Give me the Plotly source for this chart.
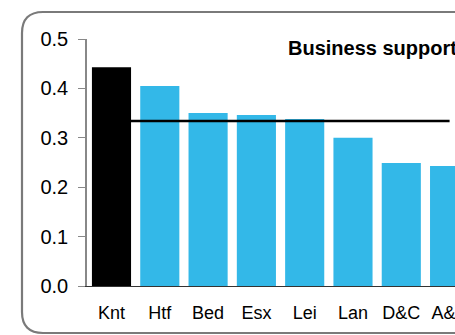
import plotly.graph_objects as go

categories = ["Knt", "Htf", "Bed", "Esx", "Lei", "Lan", "D&C", "A&S"]
values = [0.443, 0.405, 0.350, 0.346, 0.338, 0.300, 0.249, 0.243]
bar_colors = ["#000000"] + ["#33b8e8"] * 7
average = 0.334
y_ticks = [0.0, 0.1, 0.2, 0.3, 0.4, 0.5]
y_tick_labels = ["0.0", "0.1", "0.2", "0.3", "0.4", "0.5"]
title_text = "Business support"

W, H = 455, 335
ML, MT, MB, MR = 87, 39, 49, 0
PW, PH = W - ML - MR, H - MT - MB


def px(x):
    return (x - ML) / PW


def py(y):
    return (H - MB - y) / PH


fig = go.Figure()
fig.add_trace(go.Bar(x=categories, y=values, marker=dict(color=bar_colors, line=dict(width=0)),
                     showlegend=False))
fig.add_trace(go.Scatter(x=[categories[0], categories[-1]], y=[average, average], mode="lines",
                         line=dict(color="black", width=2.4), showlegend=False, hoverinfo="skip"))

# rounded border (extends beyond the right and bottom edges)
L, T, B, R, r = 22, 12, 333, 600, 21
path = (f"M {px(L)},{py(B - r)} L {px(L)},{py(T + r)} Q {px(L)},{py(T)} {px(L + r)},{py(T)} "
        f"L {px(R)},{py(T)} L {px(R)},{py(B)} L {px(L + r)},{py(B)} Q {px(L)},{py(B)} {px(L)},{py(B - r)} Z")
fig.add_shape(type="path", xref="paper", yref="paper", path=path,
              line=dict(color="#7a7a7a", width=2.2), fillcolor="rgba(0,0,0,0)", layer="below")

fig.add_annotation(text="<b>" + title_text + "</b>", xref="paper", yref="paper",
                   x=px(286), y=py(48), xanchor="left", yanchor="middle",
                   showarrow=False, font=dict(size=20, color="black"))

fig.update_layout(
    width=W, height=H, autosize=False,
    margin=dict(l=ML, r=MR, t=MT, b=MB, autoexpand=False),
    paper_bgcolor="white", plot_bgcolor="white",
    bargap=0.19,
    font=dict(family="Liberation Sans, Arial, sans-serif", color="black"),
    xaxis=dict(range=[-0.507, 7.112], showgrid=False, showline=True, linecolor="#333333",
               linewidth=1.2, ticks="", tickfont=dict(size=18), ticklabelstandoff=10,
               automargin=False),
    yaxis=dict(range=[0, 0.5], tickvals=y_ticks, ticktext=y_tick_labels, showgrid=False,
               zeroline=False, showline=True, linecolor="#888888", linewidth=1.5,
               ticks="outside", ticklen=7, tickcolor="#888888", tickfont=dict(size=20),
               ticklabelstandoff=6, automargin=False),
)

post = ("document.documentElement.style.overflow='hidden';"
        "document.body.style.overflow='hidden';"
        "document.body.style.margin='0';")
fig.write_html("out.html", config={"displayModeBar": False}, post_script=post)
